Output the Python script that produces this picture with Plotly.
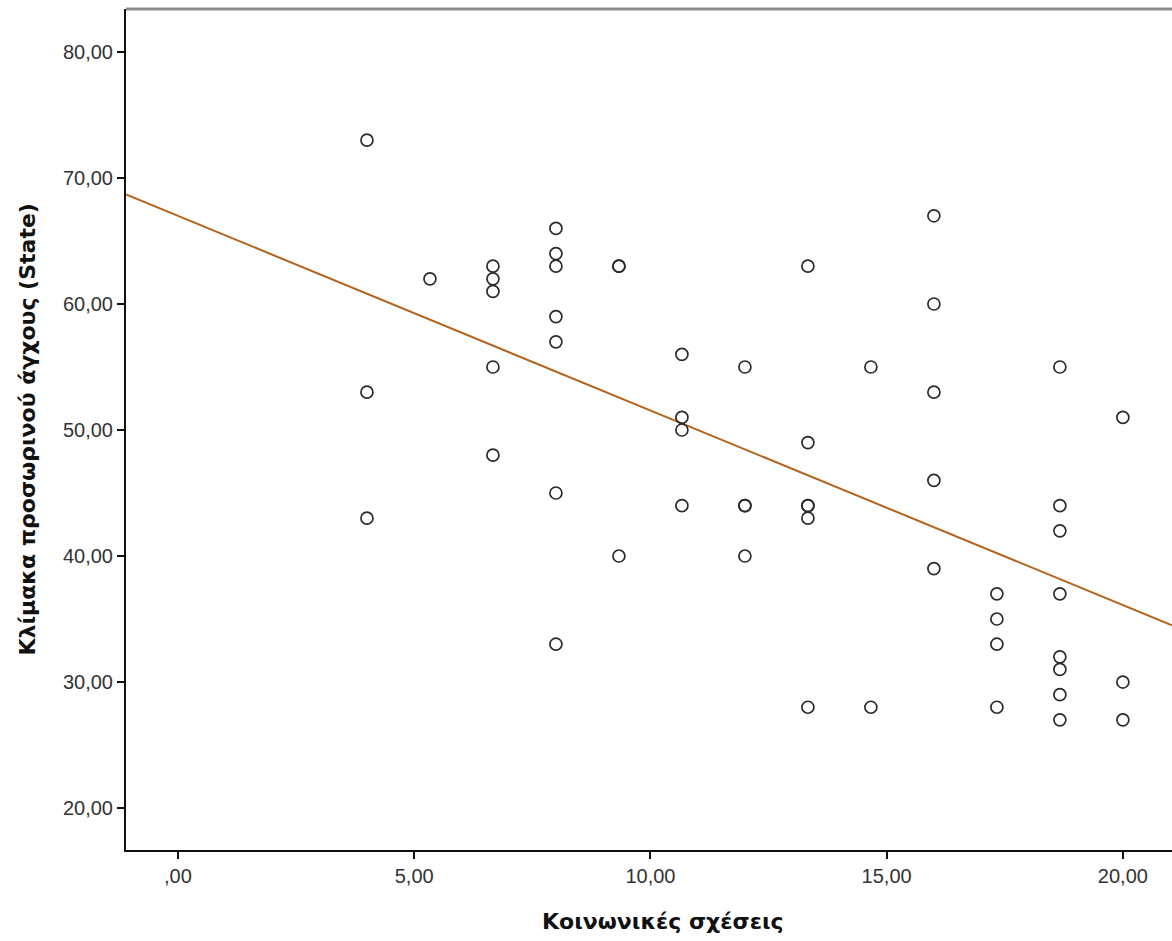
import numpy as np
import plotly.graph_objects as go

# Social relations score (x) and state-anxiety score (y), one entry per respondent
social = (
    [4.0] * 3
    + [16 / 3] * 1
    + [20 / 3] * 5
    + [8.0] * 7
    + [28 / 3] * 3
    + [32 / 3] * 4
    + [12.0] * 4
    + [40 / 3] * 6
    + [44 / 3] * 2
    + [16.0] * 5
    + [52 / 3] * 4
    + [56 / 3] * 8
    + [20.0] * 3
)
anxiety = (
    [73, 53, 43]
    + [62]
    + [63, 62, 61, 55, 48]
    + [66, 64, 63, 59, 57, 45, 33]
    + [63, 63, 40]
    + [56, 51, 50, 44]
    + [55, 44, 44, 40]
    + [63, 49, 44, 44, 43, 28]
    + [55, 28]
    + [67, 60, 53, 46, 39]
    + [37, 35, 33, 28]
    + [55, 44, 42, 37, 32, 31, 29, 27]
    + [51, 30, 27]
)

x_ticks = [0, 5, 10, 15, 20]
x_tick_labels = [",00", "5,00", "10,00", "15,00", "20,00"]
y_ticks = [20, 30, 40, 50, 60, 70, 80]
y_tick_labels = ["20,00", "30,00", "40,00", "50,00", "60,00", "70,00", "80,00"]

x_range = [-1.10, 21.04]
y_range = [16.67, 83.41]

# Least-squares fit line across the visible x range
slope, intercept = np.polyfit(np.array(social), np.array(anxiety), 1)
fit_x = np.array(x_range)
fit_y = intercept + slope * fit_x

fig = go.Figure()
fig.add_trace(go.Scatter(
    x=fit_x, y=fit_y, mode="lines",
    line=dict(color="#B5621A", width=2),
    hoverinfo="skip", showlegend=False,
))
fig.add_trace(go.Scatter(
    x=social, y=anxiety, mode="markers",
    marker=dict(symbol="circle-open", size=12, color="#2a2a2a",
                line=dict(width=1.7, color="#2a2a2a")),
    showlegend=False,
))

tick_font = dict(family="Liberation Sans, Arial, sans-serif", size=20, color="#333333")
title_font = dict(family="DejaVu Sans, Noto Sans, sans-serif", size=22, color="#111111")

fig.update_xaxes(
    range=x_range, tickvals=x_ticks, ticktext=x_tick_labels,
    showline=True, linecolor="#111111", linewidth=2,
    ticks="outside", ticklen=7, tickwidth=2, tickcolor="#111111",
    showgrid=False, zeroline=False, tickfont=tick_font,
)
fig.update_yaxes(
    range=y_range, tickvals=y_ticks, ticktext=y_tick_labels,
    showline=True, linecolor="#111111", linewidth=2,
    ticks="outside", ticklen=7, tickwidth=2, tickcolor="#111111",
    showgrid=False, zeroline=False, tickfont=tick_font,
)

# Grey frame line along the top of the plot area
fig.add_shape(type="line", xref="paper", yref="paper", x0=0, x1=1, y0=1, y1=1,
              line=dict(color="#8a8a8a", width=3))

fig.add_annotation(text="<b>Κοινωνικές σχέσεις</b>", xref="paper", yref="paper",
                   x=0.513, y=-0.0856, xanchor="center", yanchor="middle",
                   showarrow=False, font=title_font)
fig.add_annotation(text="<b>Κλίμακα προσωρινού άγχους (State)</b>", xref="paper", yref="paper",
                   x=-0.0946, y=0.5, xanchor="center", yanchor="middle",
                   textangle=-90, showarrow=False, font=title_font)

fig.update_layout(
    width=1172, height=941,
    margin=dict(l=126, r=0, t=9, b=91),
    paper_bgcolor="white", plot_bgcolor="white",
)

fig.write_html("out.html")
